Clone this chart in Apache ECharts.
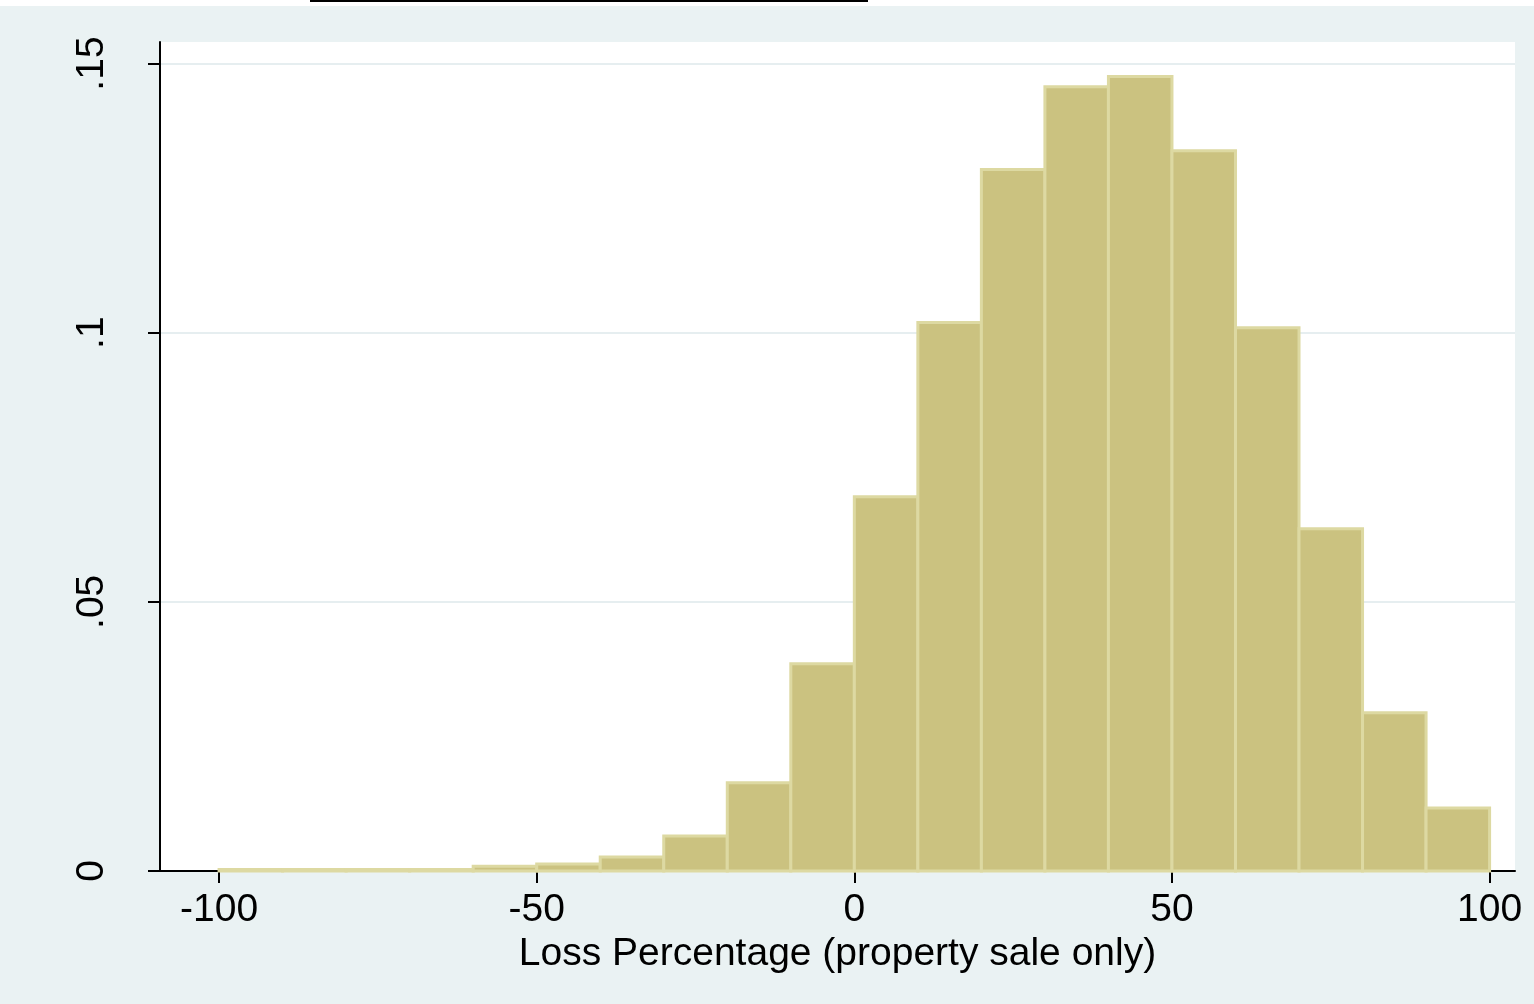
<!DOCTYPE html>
<html><head><meta charset="utf-8">
<script src="https://cdn.jsdelivr.net/npm/echarts@6/dist/echarts.min.js"></script>
<style>
html,body{margin:0;padding:0;background:#eaf2f3;}
#top{position:absolute;left:0;top:0;width:1534px;height:6px;background:#fff;}
#topline{position:absolute;left:310px;top:0;width:558px;height:2px;background:#000;}
#c{position:absolute;left:0;top:6px;width:1534px;height:998px;}
</style></head>
<body><div id="top"></div><div id="topline"></div><div id="c"></div>
<script>
// histogram bins (lower edge) and density heights
const binStarts = [-100, -90, -80, -70, -60, -50, -40, -30, -20, -10, 0, 10, 20, 30, 40, 50, 60, 70, 80, 90];
const density = [0.0003, 0.0003, 0.0003, 0.0003, 0.0009, 0.0013, 0.0026, 0.0065, 0.0164, 0.0385,
  0.0695, 0.1019, 0.1303, 0.1457, 0.1476, 0.1338, 0.1009, 0.0636, 0.0294, 0.0117];
const binWidth = 10;
const yTicks = { 0: "0", 0.05: ".05", 0.1: ".1", 0.15: ".15" };

const chart = echarts.init(document.getElementById("c"));
const font = "Liberation Sans, Arial, sans-serif";
chart.setOption({
  backgroundColor: "#eaf2f3",
  grid: { left: 160, right: 19, top: 36, bottom: 133, backgroundColor: "#fff", show: true, borderWidth: 0 },
  xAxis: {
    type: "value", min: -109.3, max: 104, interval: 50,
    axisLine: { lineStyle: { color: "#000", width: 2 } },
    axisTick: { length: 12, lineStyle: { color: "#000", width: 2 }, customValues: [-100, -50, 0, 50, 100] },
    axisLabel: { color: "#000", fontSize: 39, fontFamily: font, margin: 20, customValues: [-100, -50, 0, 50, 100] },
    splitLine: { show: false },
    name: "Loss Percentage (property sale only)", nameLocation: "middle", nameGap: 50,
    nameTextStyle: { color: "#000", fontSize: 39, fontFamily: font }
  },
  yAxis: {
    type: "value", min: 0, max: 0.154,
    axisLine: { show: true, onZero: false, lineStyle: { color: "#000", width: 2 } },
    axisTick: { show: true, length: 12, lineStyle: { color: "#000", width: 2 }, customValues: [0, 0.05, 0.1, 0.15] },
    axisLabel: { color: "#000", fontSize: 39, fontFamily: font, rotate: 90, margin: 48,
      customValues: [0, 0.05, 0.1, 0.15], formatter: v => yTicks[Math.round(v * 100) / 100] || "" },
    splitLine: { show: true, lineStyle: { color: "#e6eef0", width: 2 } }
  },
  series: [{
    type: "custom",
    data: binStarts.map((s, i) => [s, density[i]]),
    renderItem: (params, api) => {
      const x0 = api.value(0), h = api.value(1);
      const p0 = api.coord([x0, 0]), p1 = api.coord([x0 + binWidth, h]);
      return { type: "rect",
        shape: { x: p0[0], y: p1[1], width: p1[0] - p0[0], height: p0[1] - p1[1] },
        style: { fill: "#cbc280", stroke: "#ddd9a2", lineWidth: 3 } };
    }
  }]
});
</script></body></html>
